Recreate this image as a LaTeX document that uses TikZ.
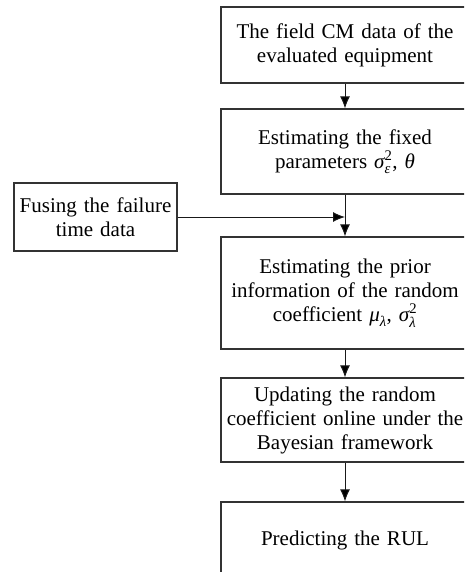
\documentclass[tikz,border=0pt]{standalone}
\usepackage{amsmath}
\usepackage{fontspec}
\setmainfont{Liberation Serif}
\usetikzlibrary{arrows.meta}
\usepackage{xcolor}

\begin{document}
\begin{tikzpicture}[x=1pt,y=-1pt]
\tikzset{align=center,
	font=\fontsize{21}{24}\selectfont}
\tikzset{block/.style = {shape=rectangle,draw=black!80,line width=1.1pt,inner sep=2pt,
	text width=242pt,minimum width=248pt}}
\tikzset{edge/.style = {-{Latex[length=12pt,width=10pt]},draw=black!90,line width=1pt}}
\clip (0,0) rectangle (464,572);
% blocks
\node[block,minimum height=76pt] (fielddata) at (345,45) {The field CM data of the\\evaluated equipment};
\node[block,minimum height=85pt] (fixedpar) at (345,151.5) {Estimating the fixed\\parameters $\textit{σ}^{\text{2}}_{\textit{ε}}$, \textit{θ}};
\node[block,minimum height=112pt] (prior) at (345,293) {Estimating the prior\\information of the random\\coefficient $\textit{μ}_{\textit{λ}}$, $\textit{σ}^{\text{2}}_{\textit{λ}}$};
\node[block,minimum height=84pt] (update) at (345,420) {Updating the random\\coefficient online under the\\Bayesian framework};
\node[block,minimum height=76pt] (rul) at (345,540) {Predicting the RUL};
\node[block,text width=157pt,minimum width=163pt,minimum height=68pt] (failure) at (95.5,217) {Fusing the failure\\time data};

%edges
\draw[edge] (fielddata) edge (fixedpar);
\draw[edge] (fixedpar) edge (prior);
\draw[edge] (failure) edge (failure -| fixedpar);
\draw[edge] (prior) edge (update);
\draw[edge] (update) edge (rul);
\end{tikzpicture}
\end{document}
